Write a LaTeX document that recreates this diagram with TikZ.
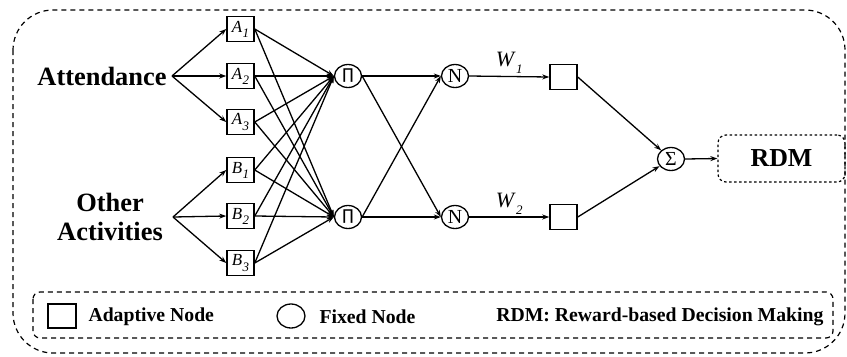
\documentclass[tikz,border=0pt]{standalone}
\usepackage{fontspec}
\setmainfont{Liberation Serif}
\newfontfamily\symfont{DejaVu Sans}
\usetikzlibrary{arrows.meta,shapes.geometric}

% italic letter with a lowered italic index
\newcommand{\idx}[2]{\textit{#1}\kern0.5bp\raisebox{-0.3em}{\fontsize{13}{13}\selectfont\textit{#2}}}

\begin{document}
\begin{tikzpicture}[x=1bp,y=-1bp,
  unit/.style={draw,line width=1.5bp,minimum width=27bp,minimum height=25bp,inner sep=0pt,font=\fontsize{17}{17}\selectfont},
  fixed/.style={draw,ellipse,line width=1.3bp,minimum width=27bp,minimum height=23bp,inner sep=0pt,font=\fontsize{20}{20}\selectfont},
  conn/.style={line width=1.3bp,-{Stealth[length=7bp,width=5bp]}},
  lbl/.style={font=\fontsize{26.5}{29}\selectfont\bfseries,align=center},
  leg/.style={font=\fontsize{19.8}{20}\selectfont\bfseries},
  frame/.style={line width=1.2bp,dash pattern=on 5bp off 4bp},
  prodsym/.style={font=\symfont\fontsize{15}{15}\selectfont}
]
\useasboundingbox (0,0) rectangle (847,356);

% outer frame and legend frame
\draw[frame,rounded corners=40bp] (13,10) rectangle (845,353);
\draw[frame,rounded corners=7bp] (33,292) rectangle (833,338);

% input labels
\node[lbl] (att) at (102,76) {Attendance};
\node[lbl] (oth) at (110,217) {Other\\Activities};
\coordinate (fa) at (172,76);
\coordinate (fb) at (173,217);

% membership layer
\node[unit] (a1) at (240.5,29)  {\idx{A}{1}};
\node[unit] (a2) at (240.5,76)  {\idx{A}{2}};
\node[unit] (a3) at (240.5,122) {\idx{A}{3}};
\node[unit] (b1) at (240.5,170) {\idx{B}{1}};
\node[unit] (b2) at (240.5,216) {\idx{B}{2}};
\node[unit] (b3) at (240.5,263) {\idx{B}{3}};

% product, normalisation, consequent and sum nodes
\node[fixed,prodsym] (p1) at (348,76)  {∏};
\node[fixed,prodsym] (p2) at (348,217) {∏};
\node[fixed] (n1) at (455,76)  {N};
\node[fixed] (n2) at (455,217) {N};
\node[unit] (c1) at (563.5,77)  {};
\node[unit] (c2) at (563.5,217) {};
\node[fixed] (s) at (671,159) {Σ};
\node[draw,line width=1.2bp,dash pattern=on 2.5bp off 2.5bp,rounded corners=8bp,
      minimum width=127bp,minimum height=47bp,font=\fontsize{26}{26}\selectfont\bfseries]
      (rdm) at (781.5,158.5) {RDM};

% input forks
\foreach \t in {a1,a2,a3} \draw[conn] (fa) -- (\t.west);
\foreach \t in {b1,b2,b3} \draw[conn] (fb) -- (\t.west);

% every membership node feeds both product nodes
\foreach \t in {a1,a2,a3,b1,b2,b3} {
  \draw[conn] (\t.east) -- (p1.west);
  \draw[conn] (\t.east) -- (p2.west);
}

% product to normalisation
\draw[conn] (p1.east) -- (n1.west);
\draw[conn] (p1.east) -- (n2.west);
\draw[conn] (p2.east) -- (n1.west);
\draw[conn] (p2.east) -- (n2.west);

% weighted outputs
\draw[conn] (n1.east) -- node[above=-1bp,font=\fontsize{22}{22}\selectfont] {\idx{W}{1}} (c1.west);
\draw[conn] (n2.east) -- node[above=-1bp,font=\fontsize{22}{22}\selectfont] {\idx{W}{2}} (c2.west);
\draw[conn] (c1.east) -- (s);
\draw[conn] (c2.east) -- (s);
\draw[conn] (s.east) -- (rdm.west);

% legend
\node[draw,line width=1.5bp,minimum width=28bp,minimum height=24bp,inner sep=0pt] (lsq) at (62,316) {};
\node[leg,anchor=west] (lsqt) at (85,317) {Adaptive Node};
\node[draw,ellipse,line width=1.3bp,minimum width=28bp,minimum height=24bp,inner sep=0pt] (lci) at (291,316) {};
\node[leg,anchor=west] (lcit) at (316,317) {Fixed Node};
\node[leg,anchor=east] (lrdm) at (827,317) {RDM: Reward-based Decision Making};
\end{tikzpicture}
\end{document}
